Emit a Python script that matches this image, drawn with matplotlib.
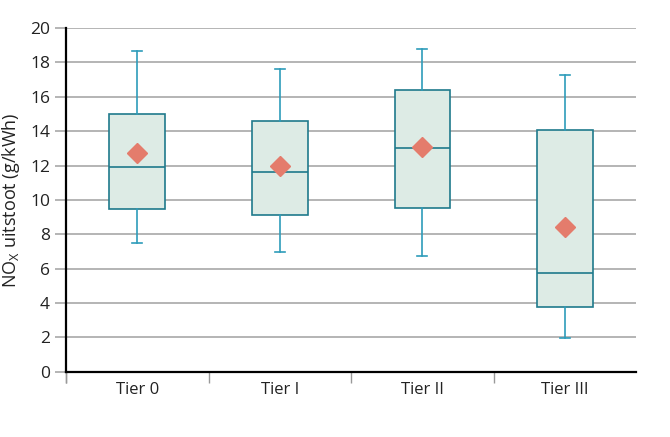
import matplotlib
matplotlib.use("Agg")
import matplotlib.pyplot as plt
from matplotlib.ticker import FixedLocator

plt.rcParams['font.family'] = ['Open Sans', 'DejaVu Sans']

# values (g/kWh)
tiers = ["Tier 0", "Tier I", "Tier II", "Tier III"]
whisker_low = [7.5, 6.95, 6.75, 1.95]
q1 = [9.45, 9.1, 9.55, 3.75]
medians = [11.9, 11.65, 13.0, 5.75]
q3 = [15.0, 14.6, 16.4, 14.05]
whisker_high = [18.65, 17.6, 18.75, 17.25]
means = [12.75, 12.0, 13.1, 8.45]

box_edge = "#1f7a8c"
box_fill = "#ddebe5"
whisk_col = "#2e9cba"
mean_col = "#e47c6c"
grid_col = "#a8a8a8"

stats = []
for i in range(len(tiers)):
    stats.append({"whislo": whisker_low[i], "q1": q1[i], "med": medians[i],
                  "q3": q3[i], "whishi": whisker_high[i], "mean": means[i],
                  "fliers": [], "label": tiers[i]})

fig = plt.figure(figsize=(6.7, 4.37), dpi=100)
ax = fig.add_axes([0.0985, 0.149, 0.851, 0.787])

ax.set_axisbelow(True)
ax.yaxis.grid(True, color=grid_col, lw=1.2)

pos = list(range(1, len(tiers) + 1))
ax.bxp(stats, positions=pos, widths=0.39, patch_artist=True, showmeans=True,
       capwidths=0.07,
       boxprops=dict(facecolor=box_fill, edgecolor=box_edge, lw=1.2),
       medianprops=dict(color=box_edge, lw=1.2),
       whiskerprops=dict(color=whisk_col, lw=1.2),
       capprops=dict(color=whisk_col, lw=1.2),
       meanprops=dict(marker="D", markerfacecolor=mean_col, markeredgecolor=mean_col,
                      markersize=10))

ax.set_xlim(0.5, len(tiers) + 0.5)
ax.set_ylim(0, 20)
ax.set_yticks(range(0, 21, 2))
ax.set_xticks(pos)
ax.set_xticklabels(tiers)
ax.xaxis.set_minor_locator(FixedLocator([p + 0.5 for p in range(len(tiers))] + [0.5]))
ax.tick_params(axis="x", which="major", length=0, labelsize=12, pad=7, labelcolor="#222222")
ax.tick_params(axis="x", which="minor", length=8, color="#999999", width=1)
ax.tick_params(axis="y", length=8, color=grid_col, width=1.2, labelsize=12.5, labelcolor="#222222")

for s in ["top", "right"]:
    ax.spines[s].set_visible(False)
ax.spines["left"].set_linewidth(1.6)
ax.spines["bottom"].set_linewidth(1.6)

ax.set_ylabel(r"NO$_\mathregular{X}$ uitstoot (g/kWh)", fontsize=13, color="#222222", labelpad=6)

fig.savefig("out.png", dpi=100)
